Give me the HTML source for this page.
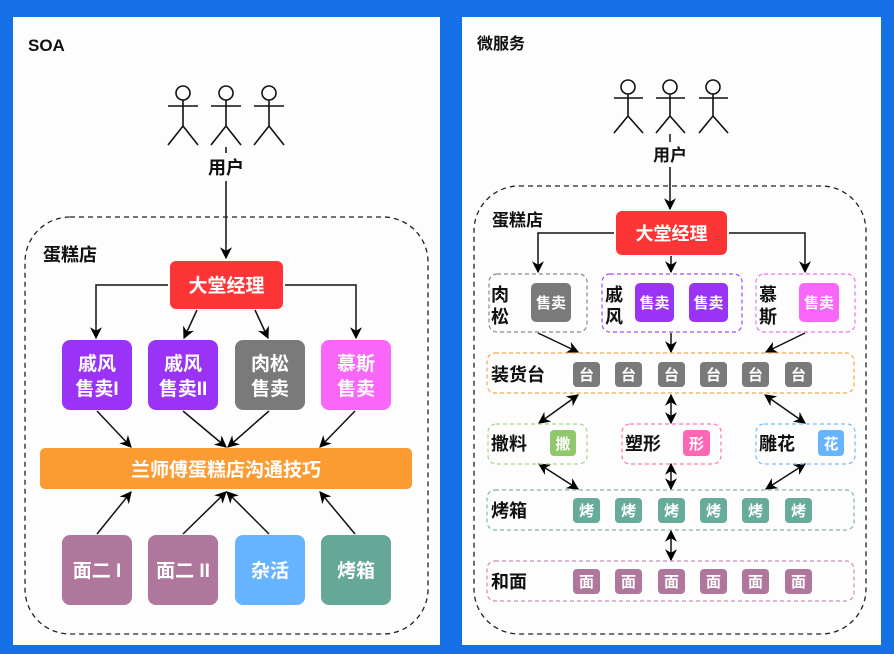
<!DOCTYPE html>
<html><head><meta charset="utf-8"><style>
html,body{margin:0;padding:0;background:#1670e8;}
svg{display:block}
text{font-family:"Liberation Sans","Noto Sans CJK SC",sans-serif;font-weight:bold}
</style></head><body>
<svg width="894" height="654" viewBox="0 0 894 654" xmlns="http://www.w3.org/2000/svg">
<defs>
<marker id="a" viewBox="0 0 10 10" refX="9" refY="5" markerWidth="12" markerHeight="12" orient="auto-start-reverse" markerUnits="userSpaceOnUse"><path d="M0,0 L10,5 L0,10 L3,5 z" fill="#000"/></marker>
</defs>
<rect x="0" y="0" width="894" height="654" fill="#1670e8"/>
<rect x="13" y="17" width="427" height="628" fill="#fdfdfd"/>
<rect x="462" y="17" width="419" height="628" fill="#fdfdfd"/>

<!-- LEFT -->
<text x="28" y="51" font-size="17" fill="#111">SOA</text>
<g stroke="#111" stroke-width="1.6" fill="#fff">
<circle cx="183" cy="93" r="7"/><circle cx="226" cy="93" r="7"/><circle cx="269" cy="93" r="7"/>
<path d="M168 106H198M183 100V126L168 145M183 126L198 145" fill="none"/>
<path d="M211 106H241M226 100V126L211 145M226 126L241 145" fill="none"/>
<path d="M254 106H284M269 100V126L254 145M269 126L284 145" fill="none"/>
</g>
<text x="226" y="174" font-size="18" text-anchor="middle" fill="#111">用户</text>
<path d="M226 147V153M226 181V258" stroke="#111" stroke-width="1.5" marker-end="url(#a)"/>
<rect x="25" y="217" width="403" height="417" rx="45" fill="none" stroke="#222" stroke-width="1.3" stroke-dasharray="5,4"/>
<text x="43" y="261" font-size="18" fill="#111">蛋糕店</text>
<rect x="170" y="261" width="113" height="48" rx="6" fill="#fd3537"/>
<text x="226.5" y="292" font-size="19" text-anchor="middle" fill="#fff">大堂经理</text>
<g stroke="#111" stroke-width="1.5" fill="none" marker-end="url(#a)">
<path d="M168 285H96V338"/><path d="M285 285H356V338"/>
<path d="M197 310L184 338"/><path d="M255 310L268 338"/>
<path d="M97 411L131 447"/><path d="M183 411L226 447"/><path d="M269 411L228 447"/><path d="M355 411L320 447"/>
<path d="M97 534L131 492"/><path d="M183 534L226 492"/><path d="M269 534L227 492"/><path d="M355 534L320 492"/>
</g>
<rect x="62" y="340" width="70" height="70" rx="8" fill="#9a33f5"/>
<rect x="148" y="340" width="70" height="70" rx="8" fill="#9a33f5"/>
<rect x="235" y="340" width="70" height="70" rx="8" fill="#7a7a7a"/>
<rect x="321" y="340" width="70" height="70" rx="8" fill="#fa66fa"/>
<g font-size="19" fill="#fff" text-anchor="middle">
<text x="97" y="370">戚风</text><text x="97" y="395">售卖I</text>
<text x="183" y="370">戚风</text><text x="183" y="395">售卖II</text>
<text x="270" y="370">肉松</text><text x="270" y="395">售卖</text>
<text x="356" y="370">慕斯</text><text x="356" y="395">售卖</text>
</g>
<rect x="40" y="448" width="372" height="41" rx="5" fill="#fd9b33"/>
<text x="226" y="476" font-size="19" text-anchor="middle" fill="#fff">兰师傅蛋糕店沟通技巧</text>
<rect x="62" y="535" width="70" height="70" rx="8" fill="#b0779d"/>
<rect x="148" y="535" width="70" height="70" rx="8" fill="#b0779d"/>
<rect x="235" y="535" width="70" height="70" rx="8" fill="#66b3ff"/>
<rect x="321" y="535" width="70" height="70" rx="8" fill="#65a898"/>
<g font-size="19" fill="#fff" text-anchor="middle">
<text x="97" y="577">面二 I</text><text x="183" y="577">面二 II</text>
<text x="270" y="577">杂活</text><text x="356" y="577">烤箱</text>
</g>

<!-- RIGHT -->
<text x="477" y="49" font-size="16" fill="#111">微服务</text>
<g stroke="#111" stroke-width="1.6" fill="#fff">
<circle cx="628" cy="87" r="7"/><circle cx="670" cy="87" r="7"/><circle cx="713" cy="87" r="7"/>
<path d="M614 98H643M628 94V116L614 133M628 116L643 133" fill="none"/>
<path d="M656 98H685M670 94V116L656 133M670 116L685 133" fill="none"/>
<path d="M699 98H728M713 94V116L699 133M713 116L728 133" fill="none"/>
</g>
<text x="670" y="161" font-size="17" text-anchor="middle" fill="#111">用户</text>
<path d="M670 134V142M670 167V209" stroke="#111" stroke-width="1.5" marker-end="url(#a)"/>
<rect x="474" y="186" width="392" height="448" rx="45" fill="none" stroke="#222" stroke-width="1.3" stroke-dasharray="5,4"/>
<text x="492" y="226" font-size="17" fill="#111">蛋糕店</text>
<rect x="616" y="211" width="111" height="44" rx="6" fill="#fd3537"/>
<text x="671.5" y="240" font-size="18" text-anchor="middle" fill="#fff">大堂经理</text>
<g stroke="#111" stroke-width="1.5" fill="none" marker-end="url(#a)">
<path d="M614 233H538V272"/><path d="M729 233H805V272"/><path d="M671 256V272"/>
<path d="M538 333L578 352"/><path d="M671 333V352"/><path d="M805 333L766 352"/>
</g>
<g stroke="#111" stroke-width="1.5" fill="none" marker-end="url(#a)" marker-start="url(#a)">
<path d="M578 395L539 423"/><path d="M671 395V423"/><path d="M765 395L805 423"/>
<path d="M539 464L578 489"/><path d="M671 464V489"/><path d="M805 464L766 489"/>
<path d="M671 531V560"/>
</g>
<g fill="none" stroke-width="1.2" stroke-dasharray="4,3">
<rect x="489" y="274" width="98" height="58" rx="8" stroke="#8a8a8a"/>
<rect x="602" y="274" width="140" height="58" rx="8" stroke="#a64df5"/>
<rect x="756" y="274" width="99" height="58" rx="8" stroke="#f070f0"/>
<rect x="487" y="353" width="367" height="40" rx="8" stroke="#fda44a"/>
<rect x="488" y="424" width="99" height="40" rx="8" stroke="#a6d48a"/>
<rect x="622" y="424" width="99" height="40" rx="8" stroke="#ff77bb"/>
<rect x="756" y="424" width="99" height="40" rx="8" stroke="#77bbff"/>
<rect x="487" y="490" width="367" height="40" rx="8" stroke="#7fb8aa"/>
<rect x="487" y="561" width="367" height="40" rx="8" stroke="#c890b5"/>
</g>
<g font-size="18" fill="#111">
<text x="491" y="301">肉</text><text x="491" y="323">松</text>
<text x="605" y="301">戚</text><text x="605" y="323">风</text>
<text x="759" y="301">慕</text><text x="759" y="323">斯</text>
<text x="491" y="381">装货台</text>
<text x="491" y="450">撒料</text>
<text x="625" y="450">塑形</text>
<text x="759" y="450">雕花</text>
<text x="491" y="517">烤箱</text>
<text x="491" y="588">和面</text>
</g>
<rect x="531" y="283" width="40" height="39" rx="5" fill="#7a7a7a"/>
<rect x="635" y="283" width="39" height="39" rx="5" fill="#9a33f5"/>
<rect x="689" y="283" width="39" height="39" rx="5" fill="#9a33f5"/>
<rect x="799" y="283" width="40" height="39" rx="5" fill="#fa66fa"/>
<g font-size="15" fill="#fff" text-anchor="middle">
<text x="551" y="308">售卖</text><text x="654.5" y="308">售卖</text><text x="708.5" y="308">售卖</text><text x="819" y="308">售卖</text>
</g>
<rect x="550" y="430" width="26" height="26" rx="4" fill="#92c86c"/>
<rect x="683" y="430" width="27" height="26" rx="4" fill="#ff66b3"/>
<rect x="818" y="430" width="26" height="26" rx="4" fill="#66b3ff"/>
<g font-size="15" fill="#fff" text-anchor="middle">
<text x="563" y="449">撒</text><text x="696.5" y="449">形</text><text x="831" y="449">花</text>
</g>
<g fill="#7a7a7a">
<rect x="573" y="362" width="27" height="25" rx="4"/><rect x="615" y="362" width="27" height="25" rx="4"/><rect x="658" y="362" width="27" height="25" rx="4"/><rect x="700" y="362" width="27" height="25" rx="4"/><rect x="742" y="362" width="27" height="25" rx="4"/><rect x="785" y="362" width="27" height="25" rx="4"/>
</g>
<g fill="#67ab9a">
<rect x="573" y="498" width="27" height="25" rx="4"/><rect x="615" y="498" width="27" height="25" rx="4"/><rect x="658" y="498" width="27" height="25" rx="4"/><rect x="700" y="498" width="27" height="25" rx="4"/><rect x="742" y="498" width="27" height="25" rx="4"/><rect x="785" y="498" width="27" height="25" rx="4"/>
</g>
<g fill="#b0779d">
<rect x="573" y="569" width="27" height="25" rx="4"/><rect x="615" y="569" width="27" height="25" rx="4"/><rect x="658" y="569" width="27" height="25" rx="4"/><rect x="700" y="569" width="27" height="25" rx="4"/><rect x="742" y="569" width="27" height="25" rx="4"/><rect x="785" y="569" width="27" height="25" rx="4"/>
</g>
<g font-size="15" fill="#fff" text-anchor="middle">
<text x="586.5" y="380">台</text><text x="628.5" y="380">台</text><text x="671.5" y="380">台</text><text x="713.5" y="380">台</text><text x="755.5" y="380">台</text><text x="798.5" y="380">台</text>
<text x="586.5" y="516">烤</text><text x="628.5" y="516">烤</text><text x="671.5" y="516">烤</text><text x="713.5" y="516">烤</text><text x="755.5" y="516">烤</text><text x="798.5" y="516">烤</text>
<text x="586.5" y="587">面</text><text x="628.5" y="587">面</text><text x="671.5" y="587">面</text><text x="713.5" y="587">面</text><text x="755.5" y="587">面</text><text x="798.5" y="587">面</text>
</g>
</svg>
</body></html>
